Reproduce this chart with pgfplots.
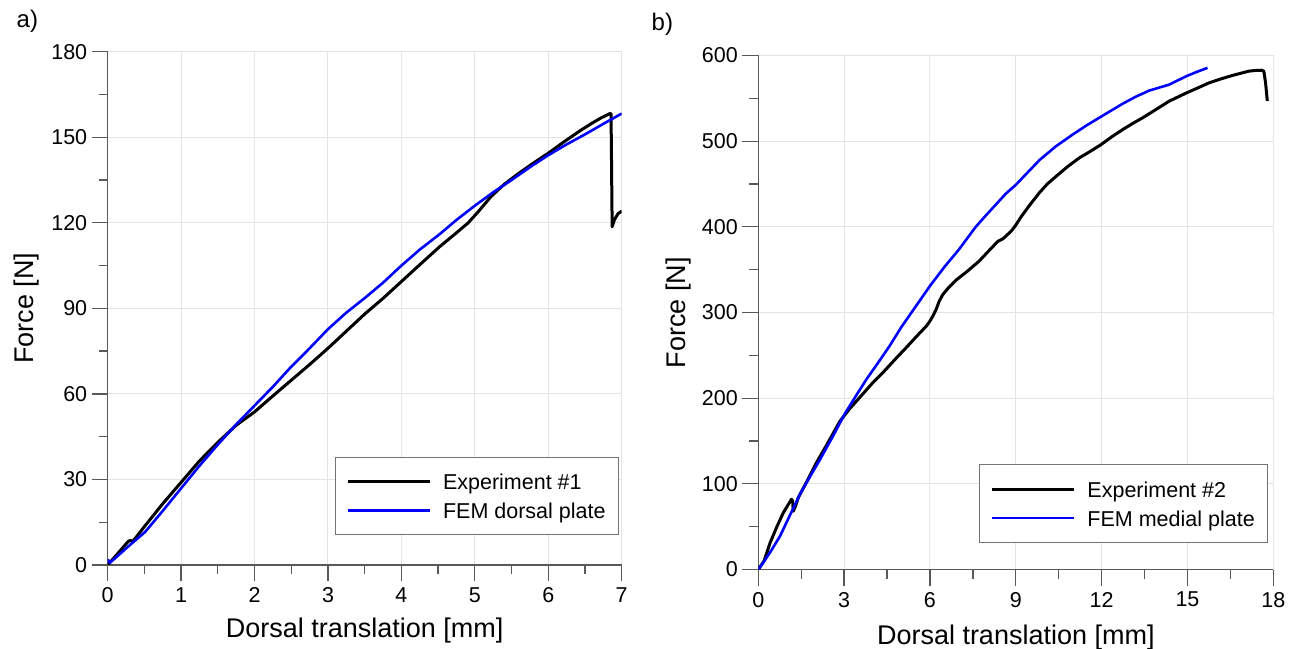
\documentclass[border=0pt]{standalone}
\usepackage{fontspec}
\setmainfont{Liberation Sans}
\usepackage{pgfplots}
\pgfplotsset{compat=1.18}

\definecolor{gridgray}{HTML}{E4E4E4}
\definecolor{axgray}{HTML}{595959}

\pgfplotsset{
  forcestyle/.style={
    scale only axis,
    anchor=south west,
    axis x line*=bottom,
    axis y line*=left,
    axis line style={axgray, line width=1.3bp},
    tick align=outside,
    major tick length=16bp,
    minor tick length=9bp,
    every tick/.style={axgray, line width=1.3bp},
    grid=major,
    major grid style={gridgray, line width=1bp},
    minor grid style={draw=none},
    /pgf/number format/assume math mode=true,
    ticklabel style={font=\fontsize{21.5bp}{25bp}\selectfont},
    xticklabel style={yshift=-3bp},
    yticklabel style={xshift=-1bp},
    label style={font=\fontsize{27bp}{32bp}\selectfont},
    xlabel style={anchor=base},
    ylabel style={anchor=base, rotate=0},
    legend cell align=left,
    legend image code/.code={\draw[##1] (0bp,0bp) -- (82bp,0bp);},
    legend style={
      anchor=south east,
      draw=black!55, line width=0.8bp,
      inner xsep=11bp, inner ysep=13.5bp,
      row sep=7.5bp, column sep=10bp,
      font=\fontsize{21.5bp}{25bp}\selectfont,
      nodes={inner sep=2bp, text height=17bp, text depth=0.5bp},
    },
  },
  expline/.style={black, line width=3bp, line join=round},
  femline/.style={blue, line width=2.6bp, line join=round},
}

\begin{document}
\begin{tikzpicture}
\path[use as bounding box] (0,0) rectangle (1302bp,649bp);

\node[anchor=base west, inner sep=0pt, font=\fontsize{24bp}{28bp}\selectfont] at (16.5bp,621bp) {a)};
\node[anchor=base west, inner sep=0pt, font=\fontsize{24bp}{28bp}\selectfont] at (651.5bp,618bp) {b)};

% a) dorsal plate
\begin{axis}[
    forcestyle,
    at={(107.7bp,84bp)},
    width=514bp, height=513.3bp,
    xmin=0, xmax=7, ymin=0, ymax=180,
    xtick={0,1,...,7},
    minor xtick={0.5,1.5,...,6.5},
    ytick={0,30,...,180},
    minor ytick={15,45,...,165},
    xlabel={Dorsal translation [mm]},
    ylabel={Force [N]},
    xlabel style={at={(axis description cs:0.5,-0.1422)}},
    ylabel style={at={(axis description cs:-0.145,0.5)}},
    legend style={at={(0.9947,0.0584)}},
  ]
  \addplot[expline] coordinates {
    (0,0)(0.17,5)(0.28,8.3)(0.31,8.6)(0.34,8.2)(0.51,13.8)(0.75,21.5)
    (1.0,29)(1.25,36.5)(1.52,43.5)(1.75,49)(2.0,53.7)(2.25,59.3)(2.5,64.8)
    (2.75,70.3)(3.0,76)(3.25,82)(3.5,88)(3.75,93.5)(4.0,99.4)
    (4.25,105.3)(4.52,111.6)(4.75,116.5)(4.91,120)(5.05,124)(5.22,129.2)
    (5.4,133.5)(5.59,137.2)(5.8,141)(6.0,144.4)(6.22,148.5)(6.44,152.4)
    (6.6,155)(6.72,156.8)(6.84,158.3)(6.855,158.2)(6.87,118.6)(6.9,121)
    (6.95,123.2)(7.0,124.1)
  };
  \addlegendentry{Experiment \#1}
  \addplot[femline] coordinates {
    (0,2)(0.03,0.8)(0.15,3.5)(0.28,6.5)(0.51,11.6)(0.75,19)(1.0,26.9)
    (1.25,34.8)(1.52,42.8)(1.75,49.3)(2.0,55.9)(2.25,62.5)(2.48,69)
    (2.75,76)(3.0,82.7)(3.25,88.5)(3.5,93.6)(3.75,99)(4.0,105)(4.25,110.6)
    (4.52,116)(4.75,121)(5.0,126)(5.25,130.7)(5.5,135)(5.75,139.5)
    (6.0,143.7)(6.25,147.5)(6.5,151)(6.75,154.7)(7.0,158.3)
  };
  \addlegendentry{FEM dorsal plate}
\end{axis}

% b) medial plate
\begin{axis}[
    forcestyle,
    at={(758.3bp,79.5bp)},
    width=515bp, height=514bp,
    xmin=0, xmax=18, ymin=0, ymax=600,
    xtick={0,3,...,18},
    minor xtick={1.5,4.5,...,16.5},
    ytick={0,100,...,600},
    minor ytick={50,150,...,550},
    xlabel={Dorsal translation [mm]},
    ylabel={Force [N]},
    xlabel style={at={(axis description cs:0.5,-0.146)}},
    ylabel style={at={(axis description cs:-0.142,0.5)}},
    legend style={at={(0.990,0.052)}},
  ]
  \addplot[expline] coordinates {
    (0,0)(0.2,10)(0.41,31)(0.65,50)(0.87,66)(1.05,76)(1.16,82)(1.2,80)
    (1.22,68)(1.3,74)(1.4,84)(1.7,103)(2.03,124.5)(2.4,146)(2.85,173)
    (3.2,188)(3.55,201)(4.0,218)(4.36,230)(4.8,246)(5.17,259)(5.5,271)
    (5.87,284)(6.0,290)(6.12,297)(6.22,304)(6.32,313)(6.45,321)(6.65,329)
    (6.92,338)(7.3,348)(7.72,360)(8.0,370)(8.37,383)(8.55,386)(8.84,395)
    (9.0,402)(9.19,412)(9.5,426)(9.83,440)(10.1,450)(10.41,459)(10.8,470)
    (11.22,480.5)(11.6,488)(11.98,496)(12.35,505)(12.74,513.6)(13.1,521)
    (13.43,527.2)(13.9,537)(14.36,546.7)(14.97,556.4)(15.35,562)(15.75,568)
    (16.15,572.5)(16.56,576.6)(17.14,581.7)(17.4,582.6)(17.6,582.8)
    (17.67,581.5)(17.73,568)(17.79,547)
  };
  \addlegendentry{Experiment \#2}
  \addplot[femline] coordinates {
    (0,0)(0.17,7.8)(0.45,22)(0.76,39)(1.1,63)(1.45,87.5)(1.8,108)
    (2.15,128)(2.6,155)(3.01,181)(3.4,202)(3.78,222)(4.2,242)(4.59,261)
    (5.0,283)(5.5,307)(6.0,331)(6.5,353)(7.0,373)(7.6,400)(8.0,415)
    (8.66,439)(9.0,449)(9.83,478)(10.4,494)(11.0,508)(11.5,519)(12.0,529)
    (12.75,544)(13.2,552)(13.66,559)(14.36,566)(14.97,576)(15.3,580.5)
    (15.7,585.6)
  };
  \addlegendentry{FEM medial plate}
\end{axis}
\end{tikzpicture}
\end{document}
